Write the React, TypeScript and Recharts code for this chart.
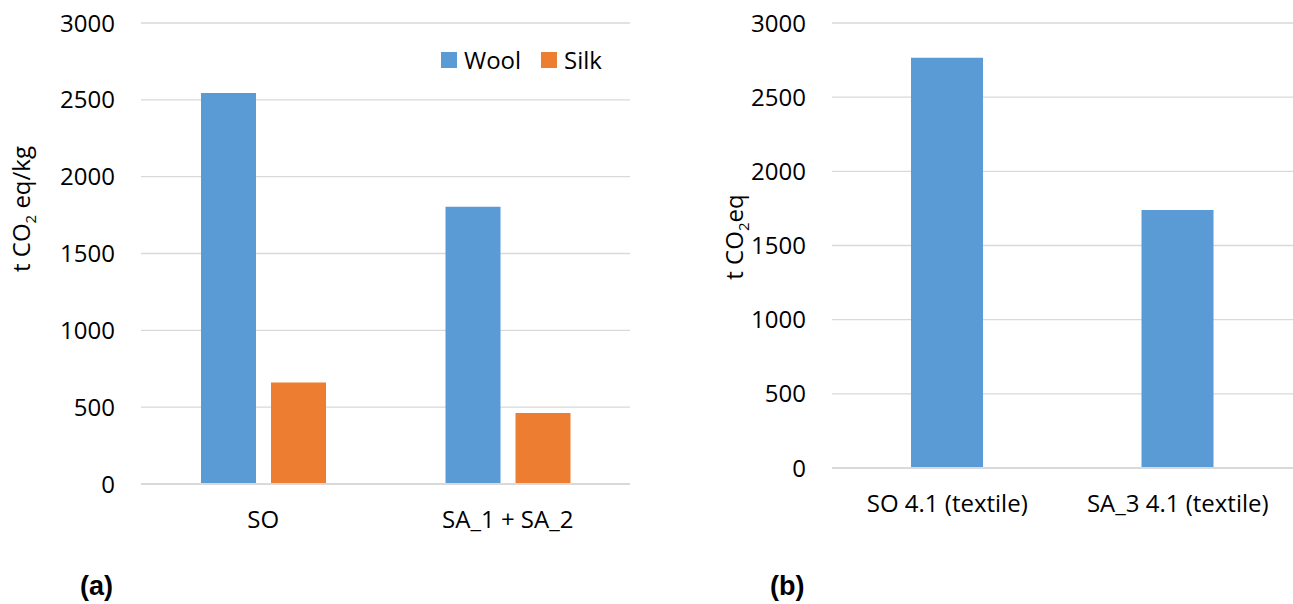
import React from "react"
import { BarChart, Bar, XAxis, YAxis, CartesianGrid, Legend } from "recharts"

// (a) per-kg footprint
const scenariosA = ["SO", "SA_1 + SA_2"]
const woolValues = [2545, 1805]
const silkValues = [660, 462]
const seriesOrder = ["Wool", "Silk"]

// (b) totals for textile
const scenariosB = ["SO 4.1 (textile)", "SA_3 4.1 (textile)"]
const textileValues = [2765, 1740]

const yTicks = [0, 500, 1000, 1500, 2000, 2500, 3000]

const dataA = scenariosA.map((name, i) => ({
  name,
  Wool: woolValues[i],
  Silk: silkValues[i],
}))
const dataB = scenariosB.map((name, i) => ({ name, value: textileValues[i] }))

const FONT = "'Open Sans', sans-serif"
const BLUE = "#5b9bd5"
const ORANGE = "#ed7d31"
const GRID = "#d9d9d9"

const tickStyle = { fontFamily: FONT, fontSize: 24, fill: "#000" }

const YTitle = ({ cx, cy, unit }: { cx: number; cy: number; unit: string }) => (
  <text
    x={cx}
    y={cy}
    transform={`rotate(-90, ${cx}, ${cy})`}
    textAnchor="middle"
    fontFamily={FONT}
    fontSize={24}
    fill="#000"
  >
    t CO
    <tspan fontSize={15} dy={6}>
      2
    </tspan>
    <tspan dy={-6}>{unit}</tspan>
  </text>
)

const LegendBox = (props: any) => {
  const items = [...(props.payload || [])].sort(
    (a: any, b: any) => seriesOrder.indexOf(a.value) - seriesOrder.indexOf(b.value)
  )
  return (
    <div
      style={{
        display: "flex",
        alignItems: "center",
        fontFamily: FONT,
        fontSize: 24,
        color: "#000",
        lineHeight: "30px",
      }}
    >
      {items.map((p: any) => (
        <span
          key={p.value}
          style={{ display: "flex", alignItems: "center", marginRight: 20 }}
        >
          <span
            style={{
              width: 16,
              height: 16,
              background: p.color,
              marginRight: 7,
              display: "inline-block",
            }}
          />
          {p.value}
        </span>
      ))}
    </div>
  )
}

const panelLabel = (left: number): React.CSSProperties => ({
  position: "absolute",
  left,
  top: 573,
  fontFamily: "'Liberation Sans', Arial, sans-serif",
  fontWeight: "bold",
  fontSize: 27,
  lineHeight: "27px",
  color: "#000",
})

export default function App() {
  return (
    <div
      style={{
        position: "absolute",
        left: 0,
        top: 0,
        width: 1293,
        height: 604,
        background: "#fff",
      }}
    >
      <div style={{ position: "absolute", left: 0, top: 0 }}>
        <BarChart
          width={650}
          height={604}
          data={dataA}
          margin={{ top: 23, right: 20, bottom: 90, left: 0 }}
          barSize={55}
          barGap={15}
        >
          <CartesianGrid vertical={false} stroke={GRID} strokeWidth={1.3} />
          <XAxis
            dataKey="name"
            height={30}
            tickLine={false}
            tickMargin={21}
            axisLine={{ stroke: GRID, strokeWidth: 2 }}
            tick={tickStyle}
          />
          <YAxis
            width={141}
            domain={[0, 3000]}
            ticks={yTicks}
            axisLine={false}
            tickLine={false}
            tickMargin={20}
            tick={tickStyle}
            label={{ content: () => <YTitle cx={30} cy={209} unit=" eq/kg" /> }}
          />
          <Legend
            layout="horizontal"
            verticalAlign="middle"
            content={LegendBox}
            wrapperStyle={{ top: 45, left: 441, width: "auto" }}
          />
          <Bar dataKey="Wool" fill={BLUE} isAnimationActive={false} />
          <Bar dataKey="Silk" fill={ORANGE} isAnimationActive={false} />
        </BarChart>
      </div>
      <div style={{ position: "absolute", left: 660, top: 0 }}>
        <BarChart
          width={633}
          height={604}
          data={dataB}
          margin={{ top: 23, right: 0, bottom: 106, left: 0 }}
          barSize={72}
        >
          <CartesianGrid vertical={false} stroke={GRID} strokeWidth={1.3} />
          <XAxis
            dataKey="name"
            height={30}
            tickLine={false}
            tickMargin={21}
            axisLine={{ stroke: GRID, strokeWidth: 2 }}
            tick={tickStyle}
          />
          <YAxis
            width={172}
            domain={[0, 3000]}
            ticks={yTicks}
            axisLine={false}
            tickLine={false}
            tickMargin={20}
            tick={tickStyle}
            label={{ content: () => <YTitle cx={83} cy={237} unit="eq" /> }}
          />
          <Bar dataKey="value" fill={BLUE} isAnimationActive={false} />
        </BarChart>
      </div>
      <div style={panelLabel(80)}>(a)</div>
      <div style={panelLabel(770)}>(b)</div>
    </div>
  )
}
